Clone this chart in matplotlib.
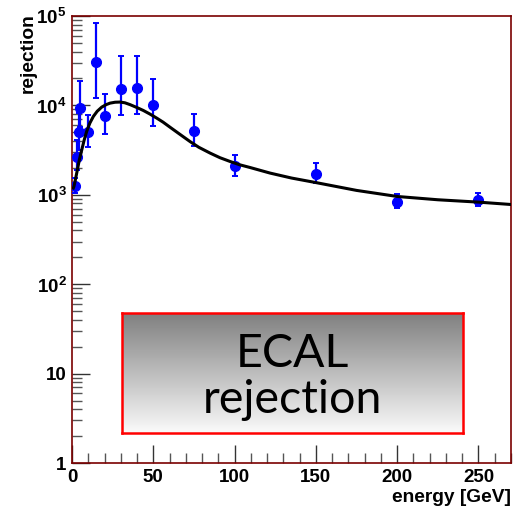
import numpy as np
import matplotlib
matplotlib.use("Agg")
import matplotlib.pyplot as plt
from matplotlib.ticker import FixedLocator, FixedFormatter, MultipleLocator

plt.rcParams['font.family'] = ['Liberation Sans', 'DejaVu Sans']
plt.rcParams['mathtext.fontset'] = 'custom'
plt.rcParams['mathtext.rm'] = 'Liberation Sans:bold'
plt.rcParams['mathtext.bf'] = 'Liberation Sans:bold'

# measured points
energy = [2, 3, 4, 5, 10, 15, 20, 30, 40, 50, 75, 100, 150, 200, 250]
rejection = [1260, 2640, 4980, 9400, 4980, 30500, 7700, 15200, 15500, 10200, 5150, 2090, 1720, 840, 880]
err_low = [1060, 1900, 3180, 5800, 3420, 12100, 4770, 7900, 8100, 5900, 3470, 1630, 1370, 716, 740]
err_high = [1550, 4120, 8200, 18600, 7840, 83000, 13400, 35700, 35700, 19900, 8050, 2820, 2260, 1020, 1060]

# fitted curve
fit_energy = [0.8, 1.2, 2, 3.3, 4.5, 6, 7.5, 9, 11, 13.1, 15.5, 18.3, 21, 23.4, 26.5, 29.5, 32.5,
              35.7, 40, 43.9, 48, 52.1, 56, 60.3, 66, 72.6, 78, 84.9, 91, 97.2, 103, 109.5,
              121.8, 135, 150, 175, 200, 225, 250, 270]
fit_value = [1190, 1240, 1450, 1900, 2450, 3180, 4100, 5100, 6350, 7510, 8600, 9570, 10200, 10600,
             10850, 10900, 10700, 10200, 9450, 8770, 7990, 7210, 6500, 5700, 4800, 3940, 3400,
             2930, 2600, 2360, 2170, 2020, 1750, 1540, 1370, 1120, 958, 880, 828, 779]

ytick_vals = [1, 10, 100, 1000, 10000, 100000]
ytick_labels = ['1', '10', r'$10^{2}$', r'$10^{3}$', r'$10^{4}$', r'$10^{5}$']

fig = plt.figure(figsize=(5.15, 5.09), dpi=100)
ax = fig.add_axes([72 / 515, 46 / 509, 439 / 515, 447 / 509])

yerr = [np.array(rejection) - np.array(err_low), np.array(err_high) - np.array(rejection)]
ax.errorbar(energy, rejection, yerr=yerr, fmt='o', color='#0000ff', ms=7,
            elinewidth=1.6, capsize=2, capthick=1.4, zorder=3)
ax.plot(fit_energy, fit_value, color='black', lw=2.2, zorder=4)

ax.set_yscale('log')
ax.set_xlim(0, 270)
ax.set_ylim(1, 1e5)

ax.yaxis.set_major_locator(FixedLocator(ytick_vals))
ax.yaxis.set_major_formatter(FixedFormatter(ytick_labels))
ax.xaxis.set_major_locator(MultipleLocator(50))
ax.xaxis.set_minor_locator(MultipleLocator(10))

ax.tick_params(axis='both', which='major', direction='in', length=13, width=1,
               color='#333333', labelsize=13.5, pad=4)
ax.tick_params(axis='both', which='minor', direction='in', length=7, width=1, color='#555555')
ax.tick_params(top=False, right=False, which='both')
for lab in ax.get_xticklabels() + ax.get_yticklabels():
    lab.set_fontweight('bold')

for sp in ax.spines.values():
    sp.set_color('#7a0000')
    sp.set_linewidth(1.2)

fig.text(28 / 515, 1 - 13 / 509, 'rejection', rotation=90, ha='center', va='top',
         fontsize=13.8, fontweight='bold')
fig.text(511 / 515, 1 - 497 / 509, 'energy [GeV]', ha='right', va='center',
         fontsize=13.8, fontweight='bold')

# label box with gray gradient
bx = fig.add_axes([122 / 515, (509 - 433) / 509, 341 / 515, 120 / 509])
grad = np.linspace(0.5, 0.98, 256).reshape(-1, 1)
bx.imshow(grad, cmap='gray', vmin=0, vmax=1, aspect='auto', extent=[0, 1, 1, 0])
bx.set_xlim(0, 1)
bx.set_ylim(1, 0)
bx.set_xticks([])
bx.set_yticks([])
for sp in bx.spines.values():
    sp.set_color('#ff0000')
    sp.set_linewidth(1.8)
bx.text(0.5, 0.47, 'ECAL\nrejection', ha='center', va='center', fontsize=33.5,
        family='Lato', linespacing=1.12, transform=bx.transAxes)

fig.savefig('out.png', dpi=100)
